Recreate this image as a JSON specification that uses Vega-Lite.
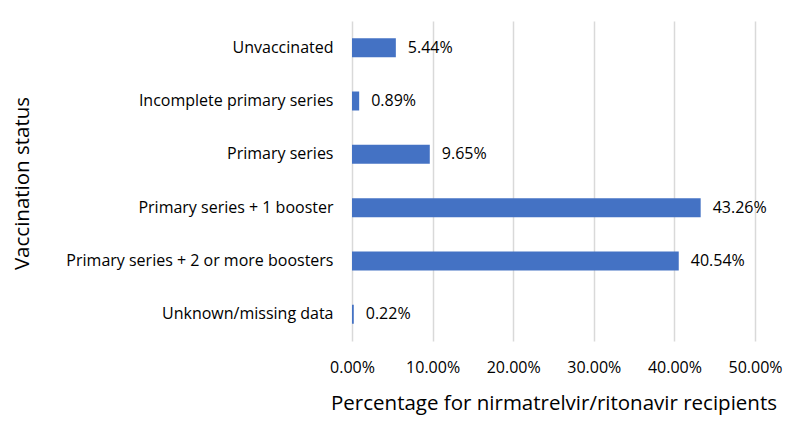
{
  "$schema": "https://vega.github.io/schema/vega-lite/v6.json",
  "autosize": {"type": "none"},
  "width": 403,
  "height": 320,
  "padding": {"left": 352, "top": 21, "right": 37, "bottom": 88},
  "background": "white",
  "data": {"values": [
    {"status": "Unvaccinated", "pct": 0.0544},
    {"status": "Incomplete primary series", "pct": 0.0089},
    {"status": "Primary series", "pct": 0.0965},
    {"status": "Primary series + 1 booster", "pct": 0.4326},
    {"status": "Primary series + 2 or more boosters", "pct": 0.4054},
    {"status": "Unknown/missing data", "pct": 0.0022}
  ]},
  "encoding": {
    "y": {
      "field": "status", "type": "nominal", "sort": null,
      "scale": {"paddingInner": 0.64, "paddingOuter": 0.32},
      "axis": {
        "title": "Vaccination status", "domain": false, "ticks": false,
        "labelFont": "Open Sans", "labelFontSize": 16, "labelColor": "#000000", "labelPadding": 19, "labelLimit": 0,
        "titleFont": "Open Sans", "titleFontSize": 20.5, "titleFontWeight": "normal", "titleColor": "#000000",
        "titleX": -330, "titleY": 162, "titleAngle": -90, "titleBaseline": "middle", "titleAlign": "center"
      }
    },
    "x": {
      "field": "pct", "type": "quantitative",
      "scale": {"domain": [0, 0.5]},
      "axis": {
        "title": "Percentage for nirmatrelvir/ritonavir recipients",
        "values": [0, 0.1, 0.2, 0.3, 0.4, 0.5],
        "format": ".2%",
        "domain": false, "ticks": false,
        "grid": true, "gridColor": "#d9d9d9", "gridWidth": 1.5,
        "labelFont": "Open Sans", "labelFontSize": 16, "labelColor": "#000000", "labelPadding": 18,
        "labelFlush": false,
        "titleFont": "Open Sans", "titleFontSize": 20.5, "titleFontWeight": "normal", "titleColor": "#000000",
        "titlePadding": 18
      }
    }
  },
  "layer": [
    {"mark": {"type": "bar", "color": "#4472C4", "size": 19}},
    {
      "mark": {"type": "text", "align": "left", "baseline": "middle", "dx": 12, "font": "Open Sans", "fontSize": 16, "color": "#000000"},
      "encoding": {"text": {"field": "pct", "type": "quantitative", "format": ".2%"}}
    }
  ],
  "config": {"view": {"stroke": null}}
}
